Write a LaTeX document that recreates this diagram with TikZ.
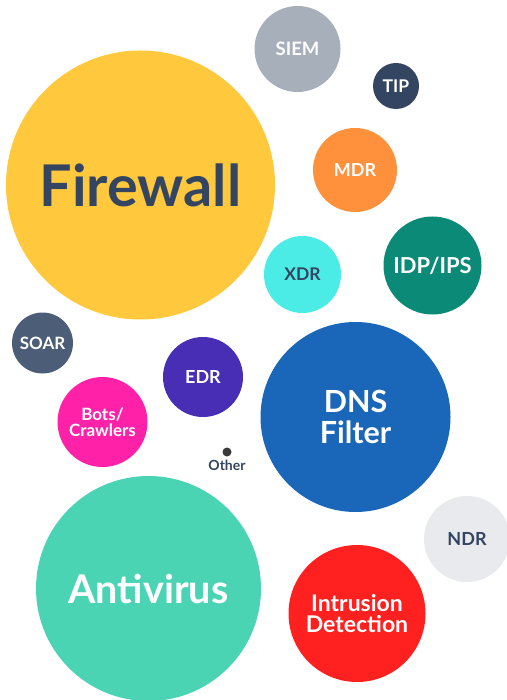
\documentclass[tikz,border=0pt]{standalone}
\usepackage{fontspec}
\setmainfont{Lato}
\definecolor{navy}{HTML}{344561}
\definecolor{cFire}{HTML}{FFC83D}
\definecolor{cSiem}{HTML}{A7AFBB}
\definecolor{cTip}{HTML}{344561}
\definecolor{cMdr}{HTML}{FF913D}
\definecolor{cXdr}{HTML}{4CECE6}
\definecolor{cIdp}{HTML}{0C8A78}
\definecolor{cSoar}{HTML}{4C5E77}
\definecolor{cEdr}{HTML}{472EB4}
\definecolor{cBots}{HTML}{FF22A8}
\definecolor{cDns}{HTML}{1A66B8}
\definecolor{cNdr}{HTML}{E8EAED}
\definecolor{cAnti}{HTML}{4AD4B4}
\definecolor{cIds}{HTML}{FF2020}
\definecolor{cOther}{HTML}{3A3A3A}
\tikzset{
  bubble/.style={circle, inner sep=0pt, align=center, font=\bfseries},
  fs/.style 2 args={font=\bfseries\fontsize{#1}{#2}\selectfont},
}
\begin{document}
\begin{tikzpicture}[x=1pt,y=-1pt]
\useasboundingbox (0,0) rectangle (506,700);
\node[bubble, fill=cFire, minimum size=269pt, text=navy, fs={57.5}{60}] (fw) at (140.5,185) {Firewall};
\node[bubble, fill=cSiem, minimum size=86pt, text=white, fs={18.5}{20}] (siem) at (297.5,49) {SIEM};
\node[bubble, fill=cTip, minimum size=46pt, text=white, fs={17.5}{20}] (tip) at (396,86) {TIP};
\node[bubble, fill=cMdr, minimum size=84pt, text=white, fs={18}{20}] (mdr) at (355,170) {MDR};
\node[bubble, fill=cXdr, minimum size=77pt, text=navy, fs={17.5}{20}] (xdr) at (302.5,274.5) {XDR};
\node[bubble, fill=cIdp, minimum size=98pt, text=white, fs={22}{24}] (idp) at (432.5,265.5) {IDP/IPS};
\node[bubble, fill=cSoar, minimum size=61pt, text=white, fs={17}{20}] (soar) at (42.5,343) {SOAR};
\node[bubble, fill=cEdr, minimum size=80pt, text=white, fs={18}{20}] (edr) at (203,377) {EDR};
\node[bubble, fill=cBots, minimum size=90pt, text=white, fs={17}{15.7}] (bots) at (102.5,422) {Bots/\\Crawlers};
\node[bubble, fill=cDns, minimum size=190pt, text=white, fs={30.5}{31}] (dns) at (355.5,417) {DNS\\Filter};
\node[circle, fill=cOther, inner sep=0pt, minimum size=9pt] (other) at (227,452) {};
\node[text=navy, fs={14}{16}, anchor=north, inner sep=0pt] (otherlbl) at (227,460) {Other};
\node[bubble, fill=cNdr, minimum size=86pt, text=navy, fs={18}{20}] (ndr) at (467,539) {NDR};
\node[bubble, fill=cAnti, minimum size=225pt, text=white, fs={39.5}{40}] (anti) at (148.5,588.5) {Antivirus};
\node[bubble, fill=cIds, minimum size=137pt, text=white, fs={23}{21}] (ids) at (357,613.5) {Intrusion\\Detection};
\end{tikzpicture}
\end{document}
